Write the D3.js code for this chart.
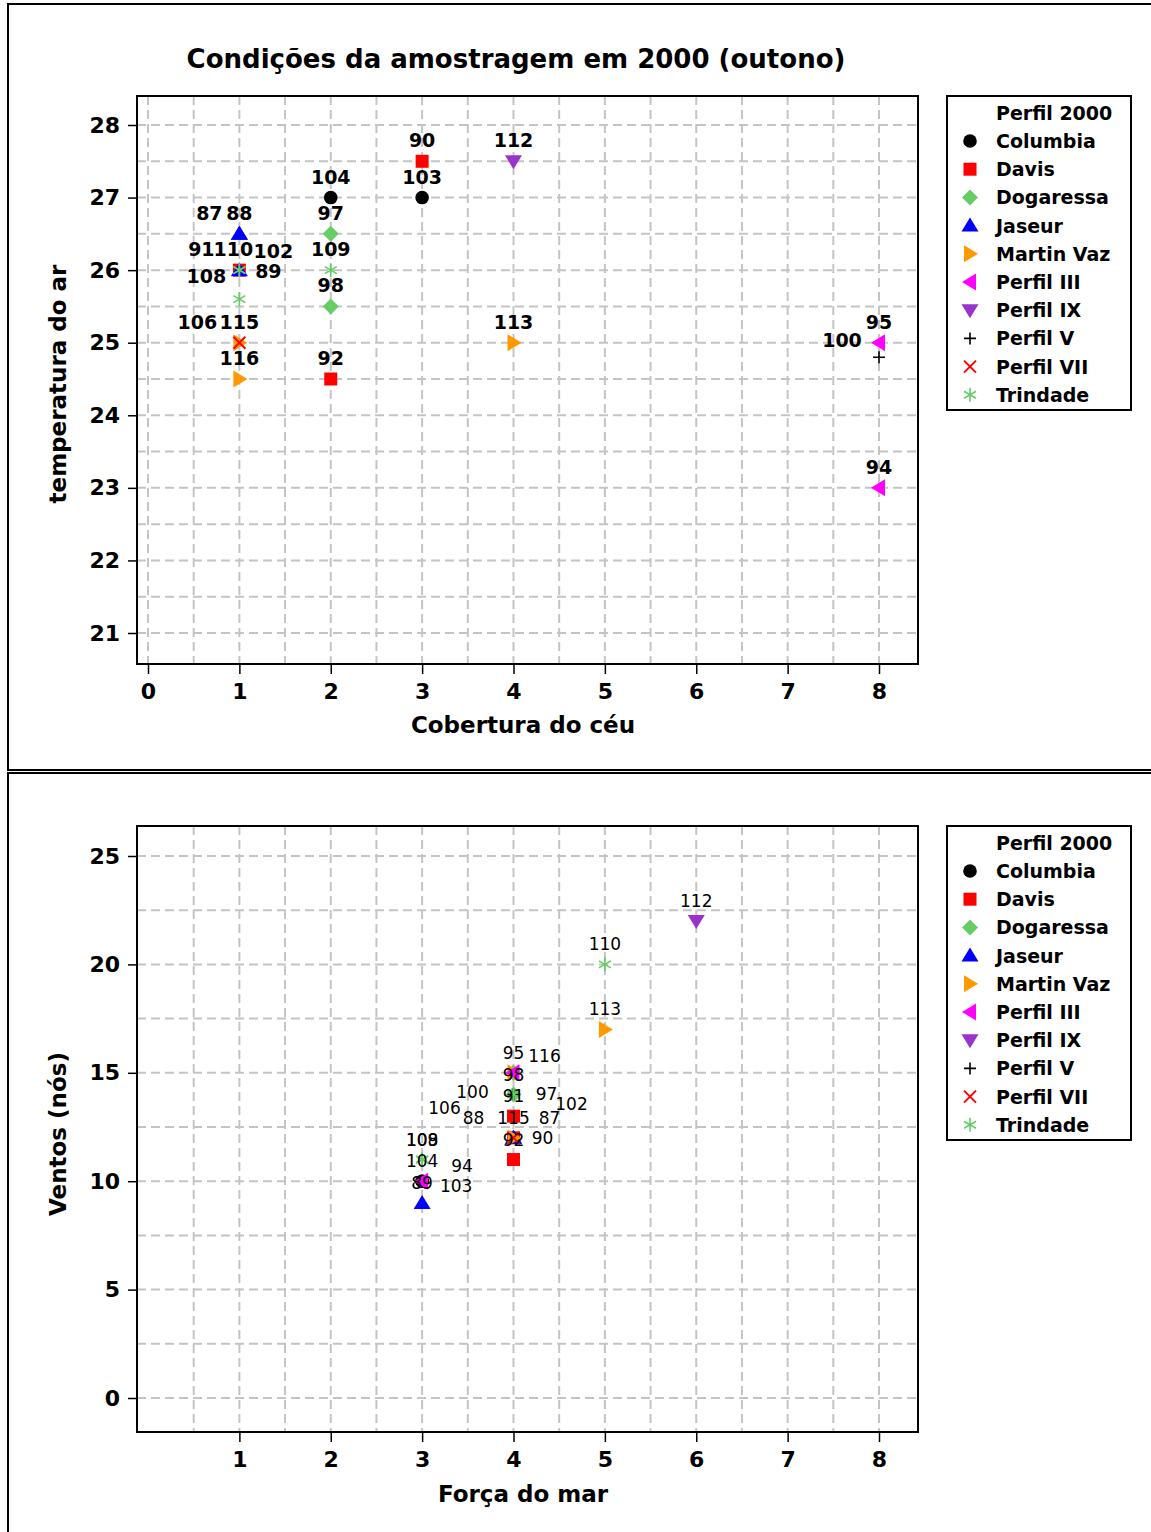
<!DOCTYPE html>
<html lang="pt">
<head>
  <meta charset="UTF-8">
  <title>Condições da amostragem em 2000 (outono)</title>
  <script src="https://d3js.org/d3.v7.min.js"></script>
  <style>
    body { margin: 0; background: #fff; }
    text { font-family: "DejaVu Sans", Verdana, sans-serif; }
  </style>
</head>
<body>
  <svg id="chart" width="1151" height="1532"></svg>
  <script>
    // series in legend order
    const perfis = ["Columbia", "Davis", "Dogaressa", "Jaseur", "Martin Vaz",
                    "Perfil III", "Perfil IX", "Perfil V", "Perfil VII", "Trindade"];

    // [perfil, cobertura do céu, temperatura do ar, amostra]
    const amostrasCeu = [
      ["Columbia", 2, 27, "104"], ["Columbia", 3, 27, "103"],
      ["Davis", 3, 27.5, "90"], ["Davis", 2, 24.5, "92"], ["Davis", 1, 26, "102"],
      ["Dogaressa", 2, 26.5, "97"], ["Dogaressa", 2, 25.5, "98"],
      ["Jaseur", 1, 26.5, "87"], ["Jaseur", 1, 26.5, "88"], ["Jaseur", 1, 26, "89"],
      ["Martin Vaz", 1, 24.5, "116"], ["Martin Vaz", 4, 25, "113"], ["Martin Vaz", 1, 25, "115"],
      ["Perfil III", 8, 25, "95"], ["Perfil III", 8, 23, "94"],
      ["Perfil IX", 4, 27.5, "112"],
      ["Perfil V", 8, 24.8, "100"],
      ["Perfil VII", 1, 25, "106"],
      ["Trindade", 2, 26, "109"], ["Trindade", 1, 26, "110"], ["Trindade", 1, 25.6, "108"],
      ["Trindade", 1, 26, "91"]
    ];

    // [perfil, força do mar, ventos (nós), amostra]
    const amostrasMar = [
      ["Columbia", 3, 10, "104"], ["Columbia", 3, 10, "103"],
      ["Davis", 4, 12, "90"], ["Davis", 4, 11, "92"], ["Davis", 4, 13, "102"],
      ["Dogaressa", 4, 14, "97"], ["Dogaressa", 4, 15, "98"],
      ["Jaseur", 4, 12, "87"], ["Jaseur", 4, 12, "88"], ["Jaseur", 3, 9, "89"],
      ["Martin Vaz", 4, 15, "116"], ["Martin Vaz", 5, 17, "113"], ["Martin Vaz", 4, 12, "115"],
      ["Perfil III", 4, 15, "95"], ["Perfil III", 3, 10, "94"],
      ["Perfil IX", 6, 22, "112"],
      ["Perfil V", 4, 14, "100"],
      ["Perfil VII", 4, 12, "106"],
      ["Trindade", 3, 11, "109"], ["Trindade", 5, 20, "110"], ["Trindade", 3, 11, "108"],
      ["Trindade", 4, 14, "91"]
    ];

    const ticksCeu = [0, 1, 2, 3, 4, 5, 6, 7, 8];
    const ticksTemp = [21, 22, 23, 24, 25, 26, 27, 28];
    const ticksMar = [1, 2, 3, 4, 5, 6, 7, 8];
    const ticksVento = [0, 5, 10, 15, 20, 25];

    // label placement (pixel offsets from the marker, text baseline), default is above
    const rotulosCeu = { "87": [-30, -14], "91": [-38, -14], "110": [-6, -14], "102": [34, -12],
                         "108": [-33, -16], "89": [29, 8], "106": [-42, -14], "100": [-37, -10] };
    const rotulosMar = { "116": [31, -11], "98": [0, 8], "100": [-41, 4], "91": [0, 8],
                         "97": [33, 6], "102": [58, -6], "106": [-69, -24], "88": [-40, -14],
                         "87": [36, -14], "90": [29, 6], "94": [40, -9], "103": [34, 11] };

    const estilo = {
      "Columbia":   { color: "#000000", shape: "circle" },
      "Davis":      { color: "#ff0000", shape: "square" },
      "Dogaressa":  { color: "#66cc66", shape: "diamond" },
      "Jaseur":     { color: "#0000ff", shape: "up" },
      "Martin Vaz": { color: "#ff9900", shape: "right" },
      "Perfil III": { color: "#ff00ff", shape: "left" },
      "Perfil IX":  { color: "#9933cc", shape: "down" },
      "Perfil V":   { color: "#000000", shape: "plus" },
      "Perfil VII": { color: "#ff0000", shape: "cross" },
      "Trindade":   { color: "#66cc66", shape: "star" }
    };

    const svg = d3.select("#chart");

    // outer panel frames
    svg.append("rect").attr("x", 8).attr("y", 4).attr("width", 1160).attr("height", 766)
      .attr("fill", "none").attr("stroke", "#000").attr("stroke-width", 2);
    svg.append("rect").attr("x", 8).attr("y", 773).attr("width", 1160).attr("height", 780)
      .attr("fill", "none").attr("stroke", "#000").attr("stroke-width", 2);

    svg.append("text").attr("x", 516).attr("y", 68).attr("text-anchor", "middle")
      .attr("font-size", 26).attr("font-weight", "bold")
      .text("Condições da amostragem em 2000 (outono)");

    function drawMarker(g, perfil) {
      const s = estilo[perfil], c = s.color;
      switch (s.shape) {
        case "circle":
          g.append("circle").attr("r", 6.8).attr("fill", c); break;
        case "square":
          g.append("rect").attr("x", -6.5).attr("y", -6.5).attr("width", 13).attr("height", 13).attr("fill", c); break;
        case "diamond":
          g.append("path").attr("d", "M0,-8L8,0L0,8L-8,0Z").attr("fill", c); break;
        case "up":
          g.append("path").attr("d", "M0,-8L8.5,6L-8.5,6Z").attr("fill", c); break;
        case "down":
          g.append("path").attr("d", "M-8.5,-6L8.5,-6L0,8Z").attr("fill", c); break;
        case "right":
          g.append("path").attr("d", "M-6,-8.5L8,0L-6,8.5Z").attr("fill", c); break;
        case "left":
          g.append("path").attr("d", "M6,-8.5L-8,0L6,8.5Z").attr("fill", c); break;
        case "plus":
          g.append("path").attr("d", "M-6,0H6M0,-6V6").attr("stroke", c).attr("stroke-width", 1.6); break;
        case "cross":
          g.append("path").attr("d", "M-6,-6L6,6M-6,6L6,-6").attr("stroke", c).attr("stroke-width", 2); break;
        case "star":
          g.append("path").attr("d", "M0,-7V7M-6,-3.5L6,3.5M-6,3.5L6,-3.5").attr("stroke", c).attr("stroke-width", 1.6); break;
      }
    }

    function drawPanel(cfg) {
      const x = d3.scaleLinear().domain([0, 8]).range([148, 879]);
      const y = d3.scaleLinear().domain(cfg.yDomain).range(cfg.yRange);
      const L = 137, R = 918, T = cfg.top, B = cfg.bottom;

      const grid = svg.append("g").attr("stroke", "#c4c4c4").attr("stroke-width", 2)
        .attr("stroke-dasharray", "9,5");
      grid.selectAll("line.v").data(cfg.xGrid).join("line")
        .attr("x1", d => x(d)).attr("x2", d => x(d)).attr("y1", T).attr("y2", B);
      grid.selectAll("line.h").data(cfg.yGrid).join("line").attr("class", "h")
        .attr("y1", d => y(d)).attr("y2", d => y(d)).attr("x1", L).attr("x2", R);

      const xAxis = svg.append("g").attr("transform", `translate(0,${B})`)
        .call(d3.axisBottom(x).tickValues(cfg.xTicks).tickSize(10).tickPadding(9).tickFormat(d3.format("d")));
      const yAxis = svg.append("g").attr("transform", `translate(${L},0)`)
        .call(d3.axisLeft(y).tickValues(cfg.yTicks).tickSize(9).tickPadding(8).tickFormat(d3.format("d")));
      [xAxis, yAxis].forEach(a => {
        a.select(".domain").remove();
        a.selectAll("line").attr("stroke", "#000").attr("stroke-width", 1.5);
        a.selectAll("text").attr("font-size", 22).attr("font-weight", "bold").attr("fill", "#000")
          .attr("font-family", "DejaVu Sans, sans-serif");
      });

      svg.append("rect").attr("x", L).attr("y", T).attr("width", R - L).attr("height", B - T)
        .attr("fill", "none").attr("stroke", "#000").attr("stroke-width", 2);

      // points, in legend order
      const pts = [];
      perfis.forEach(p => cfg.data.filter(d => d[0] === p).forEach(d => pts.push(d)));
      pts.forEach(d => {
        const g = svg.append("g").attr("transform", `translate(${x(d[1])},${y(d[2])})`);
        drawMarker(g, d[0]);
      });
      pts.forEach(d => {
        const off = cfg.labels[d[3]] || [0, -14];
        svg.append("text").attr("x", x(d[1]) + off[0]).attr("y", y(d[2]) + off[1])
          .attr("text-anchor", "middle").attr("font-size", cfg.labelSize)
          .attr("font-weight", cfg.labelWeight).text(d[3]);
      });

      svg.append("text").attr("x", 523).attr("y", cfg.xTitleY).attr("text-anchor", "middle")
        .attr("font-size", 23).attr("font-weight", "bold").text(cfg.xTitle);
      svg.append("text").attr("transform", `translate(66,${cfg.yTitleY}) rotate(-90)`)
        .attr("text-anchor", "middle").attr("font-size", 23).attr("font-weight", "bold").text(cfg.yTitle);

      // legend
      const lg = svg.append("g").attr("transform", `translate(947,${T})`);
      lg.append("rect").attr("width", 184).attr("height", 314).attr("fill", "#fff")
        .attr("stroke", "#000").attr("stroke-width", 2);
      lg.append("text").attr("x", 49).attr("y", 24).attr("font-size", 19).attr("font-weight", "bold")
        .text("Perfil 2000");
      perfis.forEach((p, i) => {
        const cy = 45 + i * 28.2;
        drawMarker(lg.append("g").attr("transform", `translate(23,${cy})`), p);
        lg.append("text").attr("x", 49).attr("y", cy + 7).attr("font-size", 19)
          .attr("font-weight", "bold").text(p);
      });
    }

    drawPanel({
      data: amostrasCeu, labels: rotulosCeu, labelSize: 19, labelWeight: "bold",
      yDomain: [21, 28], yRange: [633, 125], top: 96, bottom: 664,
      xTicks: ticksCeu, yTicks: ticksTemp,
      xGrid: d3.range(0, 8.01, 0.5), yGrid: d3.range(21, 28.01, 0.5),
      xTitle: "Cobertura do céu", xTitleY: 733, yTitle: "temperatura do ar", yTitleY: 384
    });

    drawPanel({
      data: amostrasMar, labels: rotulosMar, labelSize: 17, labelWeight: "normal",
      yDomain: [0, 25], yRange: [1398, 856], top: 826, bottom: 1432,
      xTicks: ticksMar, yTicks: ticksVento,
      xGrid: d3.range(0.5, 8.01, 0.5), yGrid: d3.range(0, 25.01, 2.5),
      xTitle: "Força do mar", xTitleY: 1502, yTitle: "Ventos (nós)", yTitleY: 1134
    });
  </script>
</body>
</html>
